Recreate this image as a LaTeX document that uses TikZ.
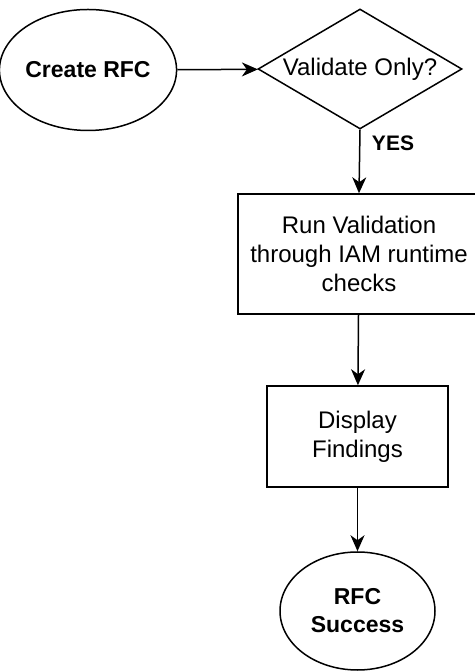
\documentclass[tikz,border=0pt]{standalone}
\usepackage{fontspec}
\setmainfont{Liberation Sans}
\usetikzlibrary{shapes.geometric,arrows.meta}

\tikzset{
	terminal/.style={draw,ellipse,line width=1.5pt,inner sep=0pt,align=center,font=\fontsize{23}{28}\selectfont\bfseries},
	decision/.style={draw,diamond,aspect=1.7,line width=1.5pt,inner sep=0pt,font=\fontsize{24}{29}\selectfont},
	process/.style={draw,rectangle,line width=1.5pt,inner sep=0pt,align=center,font=\fontsize{24}{29}\selectfont},
	flow/.style={line width=1.5pt,-{Stealth[length=16pt,width=14pt,inset=5pt]}}
}

\begin{document}
\begin{tikzpicture}[x=1pt,y=1pt]
	\useasboundingbox (0,0) rectangle (474,671);
	\node[terminal,minimum width=162pt,minimum height=121pt] (create) at (88,601) {Create RFC};
	\node[decision,minimum width=204pt,minimum height=120pt] (validate) at (360,602) {Validate Only?};
	\node[process,minimum width=242pt,minimum height=120pt] (run) at (359,417) {Run Validation\\through IAM runtime\\checks};
	\node[process,minimum width=181pt,minimum height=101pt] (display) at (357.5,234.5) {Display\\Findings};
	\node[terminal,minimum width=155pt,minimum height=118pt] (success) at (357.5,60) {RFC\\Success};
	\node[font=\fontsize{21}{25}\selectfont\bfseries] (yes) at (393,528) {YES};
	\draw[flow] (create) -- (validate);
	\draw[flow] (validate.south) -- (run.north);
	\draw[flow] (run) -- (display);
	\draw[flow] (display) -- (success);
\end{tikzpicture}
\end{document}
